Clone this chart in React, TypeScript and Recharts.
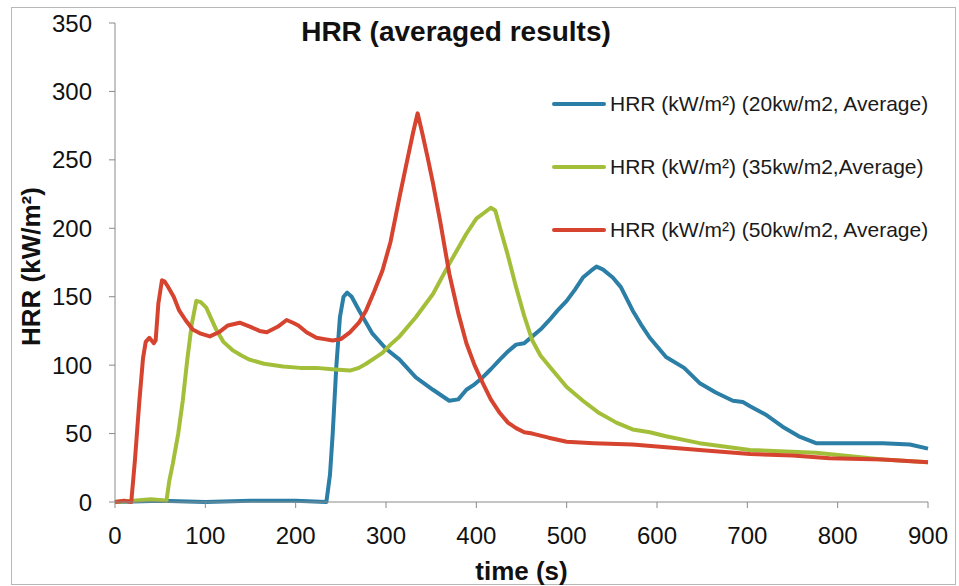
import React from "react";
import {
  LineChart,
  Line,
  XAxis,
  YAxis,
  Legend,
} from "recharts";

// HRR curves (time in s, HRR in kW/m²)
const time20 = [0, 50, 100, 150, 200, 234, 238, 241, 245, 249, 253, 257, 262, 271, 285, 300, 315, 333, 352, 370, 380, 389, 398, 407, 416, 426, 435, 444, 453, 462, 471, 481, 490, 500, 509, 518, 527, 533, 540, 551, 560, 573, 582, 592, 610, 630, 647, 665, 684, 695, 703, 720, 739, 757, 776, 795, 813, 850, 880, 900];
const hrr20 = [0, 1, 0, 1, 1, 0, 20, 50, 99, 135, 150, 153, 150, 139, 123, 112, 104, 91, 82, 74, 75, 82, 86, 91, 97, 104, 110, 115, 116, 121, 126, 133, 140, 147, 155, 164, 169, 172, 170, 164, 157, 140, 130, 120, 106, 98, 87, 80, 74, 73, 70, 64, 55, 48, 43, 43, 43, 43, 42, 39];

const time35 = [0, 20, 40, 57, 60, 64, 70, 75, 80, 85, 90, 95, 101, 112, 120, 130, 140, 149, 165, 186, 205, 223, 240, 260, 270, 278, 287, 296, 305, 315, 333, 352, 370, 389, 400, 408, 416, 421, 426, 435, 444, 453, 462, 471, 481, 500, 518, 536, 555, 573, 592, 610, 647, 703, 776, 850, 900];
const hrr35 = [0, 1, 2, 1, 15, 28, 50, 74, 104, 130, 147, 146, 142, 126, 117, 111, 107, 104, 101, 99, 98, 98, 97, 96, 98, 101, 105, 109, 115, 121, 135, 152, 174, 196, 207, 211, 215, 213, 201, 180, 157, 136, 118, 107, 99, 84, 74, 65, 58, 53, 51, 48, 43, 38, 36, 31, 29];

const time50 = [0, 10, 18, 22, 27, 31, 34, 38, 43, 45, 48, 52, 55, 58, 65, 71, 78, 86, 95, 105, 115, 125, 138, 150, 160, 168, 180, 190, 197, 203, 212, 223, 232, 241, 250, 260, 270, 278, 287, 296, 305, 315, 322, 330, 335, 340, 346, 352, 360, 370, 380, 389, 398, 407, 416, 426, 435, 444, 453, 462, 480, 500, 530, 573, 610, 647, 703, 750, 791, 850, 900];
const hrr50 = [0, 1, 0, 30, 74, 105, 117, 120, 116, 118, 145, 162, 161, 158, 150, 140, 133, 126, 123, 121, 124, 129, 131, 128, 125, 124, 128, 133, 131, 129, 124, 120, 119, 118, 119, 124, 131, 140, 154, 169, 190, 223, 245, 270, 284, 270, 252, 233, 205, 167, 138, 116, 100, 87, 75, 65, 58, 54, 51, 50, 47, 44, 43, 42, 40, 38, 35, 34, 32, 31, 29];

const xTicks = [0, 100, 200, 300, 400, 500, 600, 700, 800, 900];
const yTicks = [0, 50, 100, 150, 200, 250, 300, 350];

const series = [
  { name: "HRR (kW/m²) (20kw/m2, Average)", color: "#2b7ea6", time: time20, hrr: hrr20 },
  { name: "HRR (kW/m²) (35kw/m2,Average)", color: "#a3bf3a", time: time35, hrr: hrr35 },
  { name: "HRR (kW/m²) (50kw/m2, Average)", color: "#d6432f", time: time50, hrr: hrr50 },
];

const FONT = "'Liberation Sans', Arial, sans-serif";

const toRows = (t: number[], v: number[]) => t.map((x, i) => ({ t: x, v: v[i] }));

const YTitle = (props: any) => {
  const vb = props.viewBox || {};
  const cx = 31;
  const cy = (vb.y || 0) + (vb.height || 0) / 2 + 4;
  return (
    <text
      x={cx}
      y={cy}
      transform={`rotate(-90 ${cx} ${cy})`}
      textAnchor="middle"
      dominantBaseline="central"
      fontFamily={FONT}
      fontWeight="bold"
      fontSize={26}
      fill="#111"
    >
      HRR (kW/m²)
    </text>
  );
};

const LegendBox = () => (
  <div style={{ fontFamily: FONT, fontSize: 21, color: "#1a1a1a" }}>
    {series.map((s) => (
      <div key={s.name} style={{ display: "flex", alignItems: "center", height: 63 }}>
        <div
          style={{
            width: 54,
            height: 4,
            borderRadius: 2,
            background: s.color,
            marginRight: 4,
          }}
        />
        <span style={{ whiteSpace: "nowrap" }}>{s.name}</span>
      </div>
    ))}
  </div>
);

export default function App() {
  return (
    <div
      style={{
        position: "absolute",
        left: 0,
        top: 0,
        width: 959,
        height: 586,
        background: "#fff",
      }}
    >
      <div
        style={{
          position: "absolute",
          left: 11,
          top: 7,
          width: 943,
          height: 576,
          border: "1px solid #b8b8b8",
        }}
      />
      <div
        style={{
          position: "absolute",
          left: 0,
          width: 912,
          top: 16,
          textAlign: "center",
          fontFamily: FONT,
          fontWeight: "bold",
          fontSize: 28,
          color: "#111",
        }}
      >
        HRR (averaged results)
      </div>
      <LineChart
        width={959}
        height={586}
        margin={{ top: 23, right: 31, bottom: 0, left: 0 }}
        style={{ position: "absolute", left: 0, top: 0 }}
      >
        <XAxis
          dataKey="t"
          type="number"
          domain={[0, 900]}
          ticks={xTicks}
          allowDuplicatedCategory={false}
          height={84}
          stroke="#8a8a8a"
          tickSize={6}
          tickMargin={19}
          tick={{ fontSize: 24, fontFamily: FONT, fill: "#111" }}
          label={{
            value: "time (s)",
            position: "insideBottom",
            offset: 6,
            style: { fontFamily: FONT, fontWeight: "bold", fontSize: 26, fill: "#111" },
          }}
        />
        <YAxis
          type="number"
          domain={[0, 350]}
          ticks={yTicks}
          width={115}
          stroke="#8a8a8a"
          tickSize={6}
          tickMargin={17}
          tick={{ fontSize: 24, fontFamily: FONT, fill: "#111" }}
          label={<YTitle />}
        />
        <Legend
          verticalAlign="middle"
          align="center"
          layout="horizontal"
          content={<LegendBox />}
          wrapperStyle={{ left: 552, top: 72, width: 400 }}
        />
        {series.map((s) => (
          <Line
            key={s.name}
            name={s.name}
            data={toRows(s.time, s.hrr)}
            dataKey="v"
            type="linear"
            stroke={s.color}
            strokeWidth={4}
            strokeLinejoin="round"
            dot={false}
            activeDot={false}
            isAnimationActive={false}
          />
        ))}
      </LineChart>
    </div>
  );
}
